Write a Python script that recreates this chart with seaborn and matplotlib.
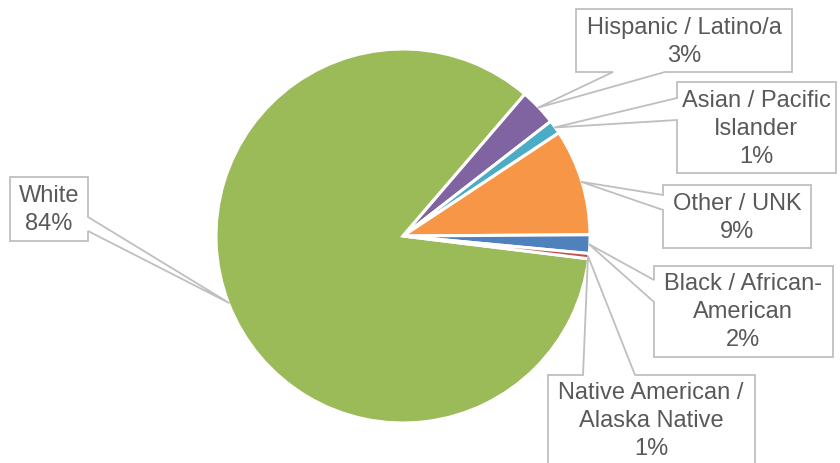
import numpy as np
import pandas as pd
import matplotlib
matplotlib.use("Agg")
import matplotlib.pyplot as plt
from matplotlib.patches import Polygon
import seaborn as sns

# data
groups = ["White", "Hispanic / Latino/a", "Asian / Pacific\nIslander", "Other / UNK",
          "Black / African-\nAmerican", "Native American /\nAlaska Native"]
shares = [84.35, 3.2, 1.2, 9.2, 1.6, 0.45]
pct_labels = ["84%", "3%", "1%", "9%", "2%", "1%"]
colors = ["#9BBB59", "#8064A2", "#4BACC6", "#F79646", "#4F81BD", "#C0504D"]

df = pd.DataFrame({"group": groups, "share": shares, "pct": pct_labels})

sns.set_theme(style="white")
plt.rcParams["font.family"] = ["Liberation Sans", "DejaVu Sans"]

W, H = 840, 463
CX, CY, R = 403, 236, 187  # pie centre / radius in pixels


def P(x, y):
    # pixel -> data coords
    return ((x - CX) / R, (CY - y) / R)


fig = plt.figure(figsize=(W / 100, H / 100), dpi=100)
ax = fig.add_axes([0, 0, 1, 1])
wedges, _ = ax.pie(df["share"], colors=colors, startangle=-7, counterclock=False,
                   wedgeprops=dict(edgecolor="white", linewidth=2.2))
ax.set_xlim(-CX / R, (W - CX) / R)
ax.set_ylim(-(H - CY) / R, CY / R)
ax.axis("off")

# callout boxes: (left, top, right, bottom), pointer side, pointer span, text centre
boxes = [
    ((10, 177, 88, 241), "right", (217, 231), (49, 210)),
    ((576, 9, 792, 72), "bottom", (613, 665), (684, 42)),
    ((677, 82, 836, 173), "left", (98, 120), (756, 129)),
    ((663, 185, 811, 248), "left", (195, 210), (737, 218)),
    ((654, 266, 833, 357), "left", (280, 302), (743, 312)),
    ((548, 375, 755, 475), "top", (583, 635), (651, 421)),
]

for w, (grp, val, pct), (box, side, span, tc) in zip(wedges, df.values, boxes):
    mid = np.deg2rad((w.theta1 + w.theta2) / 2)
    tip = (np.cos(mid) * 0.995, np.sin(mid) * 0.995)
    l, t, r, b = box
    a1, a2 = span
    if side == "top":
        pts = [P(l, t), P(a1, t), tip, P(a2, t), P(r, t), P(r, b), P(l, b)]
    elif side == "right":
        pts = [P(l, t), P(r, t), P(r, a1), tip, P(r, a2), P(r, b), P(l, b)]
    elif side == "bottom":
        pts = [P(l, t), P(r, t), P(r, b), P(a2, b), tip, P(a1, b), P(l, b)]
    else:
        pts = [P(l, t), P(r, t), P(r, b), P(l, b), P(l, a2), tip, P(l, a1)]
    ax.add_patch(Polygon(pts, closed=True, facecolor="white", edgecolor="#BFBFBF",
                         linewidth=1.3, zorder=3))
    tx, ty = P(*tc)
    ax.text(tx, ty, grp + "\n" + pct, ha="center", va="center",
            fontsize=17, color="#595959", linespacing=1.38, zorder=4)

fig.savefig("out.png", dpi=100)
